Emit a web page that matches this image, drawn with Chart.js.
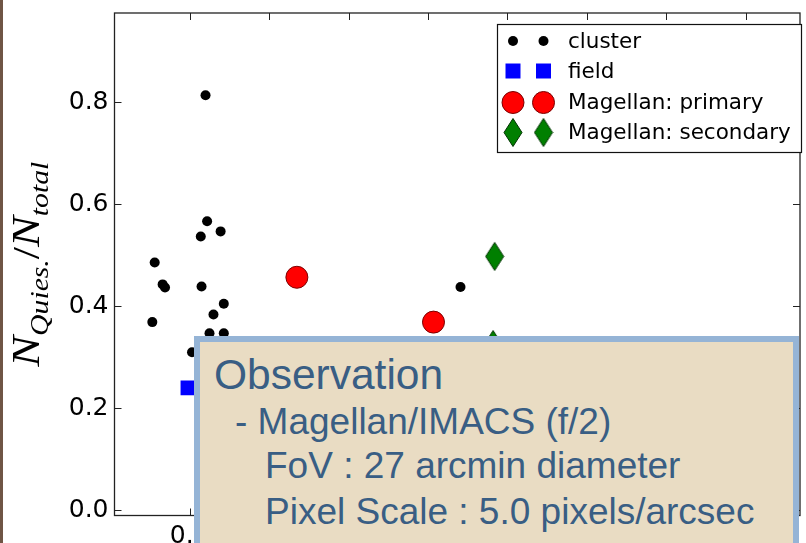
<!DOCTYPE html>
<html>
<head>
<meta charset="utf-8">
<title>Quiescent fraction</title>
<script src="https://cdn.jsdelivr.net/npm/chart.js@4"></script>
<style>
html, body { margin:0; padding:0; background:#fff; overflow:hidden; width:806px; height:543px; }
#wrap { position:relative; width:806px; height:543px; overflow:hidden; }
#strip { position:absolute; left:0; top:0; width:3px; height:543px; background:#6f5545; z-index:3; }
#plot { position:absolute; left:0; top:0; }
#note { position:absolute; left:194px; top:336px; width:593px; height:230px; background:#e9dcc3; border:6px solid #95b4d6; z-index:2; }
.ln { position:absolute; white-space:pre; font-family:"Liberation Sans", Arial, sans-serif; color:#395e84; line-height:1; z-index:3; font-size:37px; }
</style>
</head>
<body>
<div id="wrap">
  <canvas id="plot" width="812" height="543"></canvas>
  <div id="strip"></div>
  <div id="note"></div>
  <div class="ln" style="left:214px; top:354px; font-size:42.5px;">Observation</div>
  <div class="ln" style="left:235px; top:403px;">- Magellan/IMACS (f/2)</div>
  <div class="ln" style="left:265px; top:447px;">FoV : 27 arcmin diameter</div>
  <div class="ln" style="left:265px; top:493px;">Pixel Scale : 5.0 pixels/arcsec</div>
</div>
<script>
// values
const clusterX = [0.120, 0.122, 0.114, 0.139, 0.056, 0.066, 0.069, 0.115, 0.143, 0.130, 0.053, 0.125, 0.143, 0.103, 0.441];
const clusterY = [0.814, 0.567, 0.537, 0.547, 0.486, 0.443, 0.437, 0.439, 0.405, 0.384, 0.369, 0.347, 0.347, 0.310, 0.438];
const fieldX = [0.098];
const fieldY = [0.240];
const primaryX = [0.235, 0.407];
const primaryY = [0.457, 0.369];
const secondaryX = [0.484, 0.482];
const secondaryY = [0.498, 0.325];

const xTickValues = [0.1, 0.2, 0.3, 0.4, 0.5, 0.6, 0.7, 0.8];
const yTickValues = [0.0, 0.2, 0.4, 0.6, 0.8];
const seriesNames = ["cluster", "field", "Magellan: primary", "Magellan: secondary"];

function pts(xs, ys) { return xs.map((x, i) => ({x: x, y: ys[i]})); }

// matplotlib style thin diamond marker
function thinDiamond() {
  const c = document.createElement('canvas');
  c.width = 20; c.height = 31;
  const g = c.getContext('2d');
  g.beginPath();
  g.moveTo(10, 1.5); g.lineTo(19, 15.5); g.lineTo(10, 29.5); g.lineTo(1, 15.5);
  g.closePath();
  g.fillStyle = '#007f00'; g.fill();
  g.strokeStyle = '#003300'; g.lineWidth = 1; g.stroke();
  return c;
}
const diamond = thinDiamond();

const frameTicks = {
  id: 'frameTicks',
  afterDatasetsDraw(chart) {
    const ctx = chart.ctx, a = chart.chartArea;
    const xs = chart.scales.x, ys = chart.scales.y;
    ctx.save();
    ctx.strokeStyle = '#222';
    ctx.lineWidth = 1.3;
    ctx.strokeRect(a.left, a.top, a.right - a.left, a.bottom - a.top);
    ctx.lineWidth = 1;
    ctx.beginPath();
    xs.ticks.forEach(t => {
      const p = Math.round(xs.getPixelForValue(t.value)) + 0.5;
      ctx.moveTo(p, a.top); ctx.lineTo(p, a.top + 7);
      ctx.moveTo(p, a.bottom); ctx.lineTo(p, a.bottom - 7);
    });
    ys.ticks.forEach(t => {
      const p = Math.round(ys.getPixelForValue(t.value)) + 0.5;
      ctx.moveTo(a.left, p); ctx.lineTo(a.left + 7, p);
      ctx.moveTo(a.right, p); ctx.lineTo(a.right - 7, p);
    });
    ctx.stroke();
    ctx.restore();
  }
};

const boxLegend = {
  id: 'boxLegend',
  afterDraw(chart) {
    const ctx = chart.ctx;
    ctx.save();
    ctx.fillStyle = '#fff';
    ctx.fillRect(497, 24, 305, 129);
    ctx.strokeStyle = '#111';
    ctx.lineWidth = 1.2;
    ctx.strokeRect(497.5, 24.5, 304, 128);
    const rows = [41, 71, 102.5, 132.5];
    chart.data.datasets.forEach((ds, i) => {
      [513, 543.5].forEach(mx => {
        ctx.fillStyle = ds.backgroundColor;
        ctx.strokeStyle = ds.borderColor;
        ctx.lineWidth = ds.borderWidth;
        Chart.helpers.drawPoint(ctx, {pointStyle: ds.pointStyle, radius: ds.pointRadius, rotation: 0, borderWidth: ds.borderWidth}, mx, rows[i]);
      });
      ctx.fillStyle = '#000';
      ctx.font = '21.5px "DejaVu Sans"';
      ctx.textBaseline = 'middle';
      ctx.textAlign = 'left';
      ctx.fillText(ds.label, 568, rows[i] + 1);
    });
    ctx.restore();
  }
};

// y axis label N_Quies./N_total in italic serif with subscripts
const yLabel = {
  id: 'yLabel',
  afterDraw(chart) {
    const ctx = chart.ctx, a = chart.chartArea;
    const parts = [["N", 0], ["Quies.", 1], ["/", 2], ["N", 0], ["total", 1]];
    const fonts = ['italic 39px "Liberation Serif"', 'italic 25px "Liberation Serif"', '37px "Liberation Serif"'];
    let w = 0;
    parts.forEach(p => { ctx.font = fonts[p[1]]; w += ctx.measureText(p[0]).width; });
    const len = 205, s = len / w;
    ctx.save();
    ctx.translate(39, (a.top + a.bottom) / 2 + len / 2);
    ctx.rotate(-Math.PI / 2);
    ctx.scale(s, 1);
    ctx.fillStyle = '#000';
    ctx.textBaseline = 'alphabetic';
    let x = 0;
    parts.forEach(p => {
      ctx.font = fonts[p[1]];
      ctx.fillText(p[0], x, p[1] === 1 ? 9 : 0);
      x += ctx.measureText(p[0]).width;
    });
    ctx.restore();
  }
};

new Chart(document.getElementById('plot'), {
  type: 'scatter',
  data: {
    datasets: [
      { label: seriesNames[0], data: pts(clusterX, clusterY), pointStyle: 'circle', pointRadius: 5,
        backgroundColor: '#000', borderColor: '#000', borderWidth: 0 },
      { label: seriesNames[1], data: pts(fieldX, fieldY), pointStyle: 'rect', pointRadius: 10.6,
        backgroundColor: '#0000ff', borderColor: '#0000ff', borderWidth: 0 },
      { label: seriesNames[2], data: pts(primaryX, primaryY), pointStyle: 'circle', pointRadius: 11,
        backgroundColor: '#ff0000', borderColor: '#7a0000', borderWidth: 1 },
      { label: seriesNames[3], data: pts(secondaryX, secondaryY), pointStyle: diamond, pointRadius: 10,
        backgroundColor: '#007f00', borderColor: '#003300', borderWidth: 1 }
    ]
  },
  options: {
    responsive: false,
    devicePixelRatio: 1,
    animation: false,
    events: [],
    layout: { padding: { top: 13, right: 5, left: 0, bottom: 0 } },
    plugins: { legend: { display: false }, tooltip: { enabled: false } },
    scales: {
      x: {
        type: 'linear', position: 'bottom',
        min: 0.0054, max: 0.8684,
        afterBuildTicks: s => { s.ticks = xTickValues.map(v => ({value: v})); },
        afterFit: s => { s.height = 27.5; s.paddingLeft = 0; s.paddingRight = 0; },
        grid: { display: false, drawTicks: false },
        border: { display: false },
        ticks: { padding: 6, color: '#000', font: { family: 'DejaVu Sans', size: 25 },
                 maxRotation: 0, autoSkip: false, callback: v => v.toFixed(1) }
      },
      y: {
        type: 'linear', position: 'left',
        min: -0.0104, max: 0.9755,
        afterBuildTicks: s => { s.ticks = yTickValues.map(v => ({value: v})); },
        afterFit: s => { s.width = 114.5; s.paddingTop = 0; s.paddingBottom = 0; },
        grid: { display: false, drawTicks: false },
        border: { display: false },
        ticks: { padding: 6, color: '#000', font: { family: 'DejaVu Sans', size: 25 },
                 callback: v => v.toFixed(1) }
      }
    }
  },
  plugins: [frameTicks, boxLegend, yLabel]
});
</script>
</body>
</html>
